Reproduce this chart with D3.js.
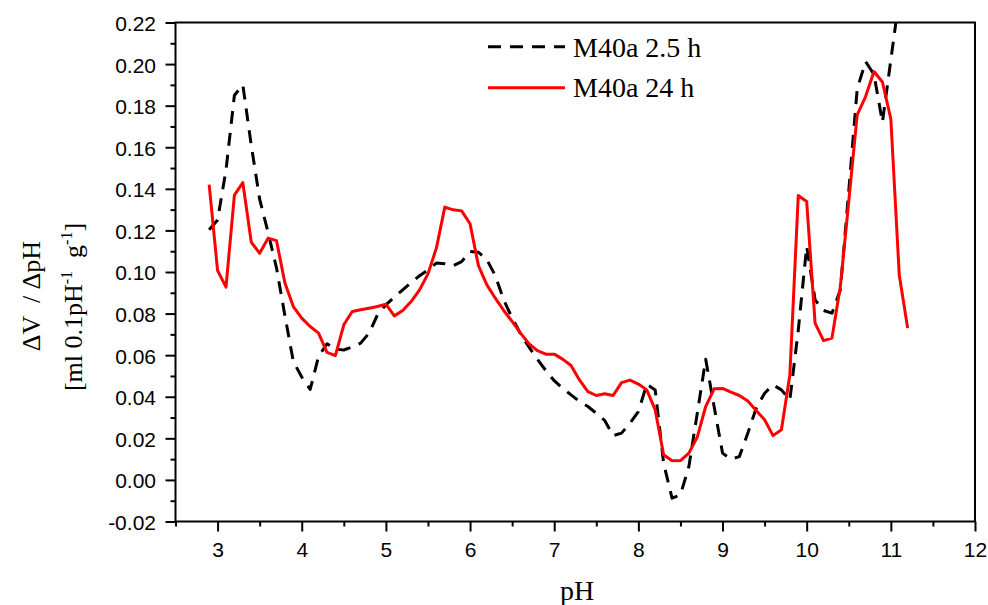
<!DOCTYPE html>
<html>
<head>
<meta charset="utf-8">
<script src="https://cdn.jsdelivr.net/npm/d3@7"></script>
<style>
  html, body { margin: 0; padding: 0; background: #fff; }
  svg { display: block; }
  .axis path, .axis line { stroke: #000; }
  .axis text { font-family: "Liberation Sans", Arial, sans-serif; font-size: 21px; fill: #000; }
  .serif { font-family: "Liberation Serif", "Times New Roman", serif; fill: #000; }
</style>
</head>
<body>
<svg id="chart" width="988" height="605"></svg>
<script>
// pH values shared by both titration runs
const pH = [2.9, 3.0, 3.1, 3.2, 3.3, 3.4, 3.5, 3.6, 3.7, 3.8, 3.9,
  4.0, 4.1, 4.2, 4.3, 4.4, 4.5, 4.6, 4.7, 4.8, 4.9,
  5.0, 5.1, 5.2, 5.3, 5.4, 5.5, 5.6, 5.7, 5.8, 5.9,
  6.0, 6.1, 6.2, 6.3, 6.4, 6.5, 6.6, 6.7, 6.8, 6.9,
  7.0, 7.1, 7.2, 7.3, 7.4, 7.5, 7.6, 7.7, 7.8, 7.9,
  8.0, 8.1, 8.2, 8.3, 8.4, 8.5, 8.6, 8.7, 8.8, 8.9,
  9.0, 9.1, 9.2, 9.3, 9.4, 9.5, 9.6, 9.7, 9.8, 9.9,
  10.0, 10.1, 10.2, 10.3, 10.4, 10.5, 10.6, 10.7, 10.8, 10.9,
  11.0, 11.1, 11.2];

// dV/dpH after 2.5 h (ends at pH 11.1)
const m40a_2_5h = [0.1203, 0.1250, 0.1490, 0.1850, 0.1900, 0.1610, 0.1350, 0.1190, 0.1020, 0.0790, 0.0570,
  0.0495, 0.0435, 0.0594, 0.0655, 0.0629, 0.0625, 0.0639, 0.0658, 0.0706, 0.0794,
  0.0842, 0.0879, 0.0914, 0.0949, 0.0982, 0.1010, 0.1043, 0.1040, 0.1030, 0.1050,
  0.1099, 0.1095, 0.1059, 0.0982, 0.0866, 0.0778, 0.0703, 0.0639, 0.0581, 0.0526,
  0.0477, 0.0441, 0.0409, 0.0377, 0.0353, 0.0321, 0.0286, 0.0213, 0.0225, 0.0273,
  0.0329, 0.0460, 0.0433, 0.0081, -0.0088, -0.0072, 0.0064, 0.0321, 0.0580, 0.0353,
  0.0129, 0.0100, 0.0112, 0.0225, 0.0345, 0.0417, 0.0457, 0.0433, 0.0385, 0.0720,
  0.1123, 0.0866, 0.0815, 0.0802, 0.0914, 0.1390, 0.1880, 0.2012, 0.1950, 0.1720,
  0.2020, 0.2320];

// dV/dpH after 24 h
const m40a_24h = [0.1420, 0.1007, 0.0927, 0.1370, 0.1430, 0.1144, 0.1090, 0.1163, 0.1151, 0.0947, 0.0834,
  0.0778, 0.0738, 0.0706, 0.0613, 0.0598, 0.0746, 0.0810, 0.0818, 0.0826, 0.0834,
  0.0845, 0.0789, 0.0815, 0.0858, 0.0914, 0.0991, 0.1115, 0.1312, 0.1299, 0.1294,
  0.1232, 0.1030, 0.0938, 0.0874, 0.0815, 0.0762, 0.0706, 0.0655, 0.0622, 0.0605,
  0.0605, 0.0581, 0.0550, 0.0481, 0.0425, 0.0406, 0.0414, 0.0406, 0.0468, 0.0480,
  0.0461, 0.0433, 0.0337, 0.0121, 0.0092, 0.0093, 0.0129, 0.0206, 0.0353, 0.0438,
  0.0440, 0.0422, 0.0406, 0.0380, 0.0334, 0.0289, 0.0213, 0.0241, 0.0505, 0.1368,
  0.1339, 0.0754, 0.0670, 0.0682, 0.0930, 0.1340, 0.1756, 0.1844, 0.1964, 0.1914,
  0.1736, 0.0986, 0.0730];

const seriesNames = ["M40a 2.5 h", "M40a 24 h"];

// axis ticks
const xMajorTicks = [3, 4, 5, 6, 7, 8, 9, 10, 11, 12];
const xMinorTicks = [2.5, 3.5, 4.5, 5.5, 6.5, 7.5, 8.5, 9.5, 10.5, 11.5];
const yMajorTicks = [-0.02, 0.00, 0.02, 0.04, 0.06, 0.08, 0.10, 0.12, 0.14, 0.16, 0.18, 0.20, 0.22];
const yTickLabels = ["-0.02", "0.00", "0.02", "0.04", "0.06", "0.08", "0.10", "0.12", "0.14", "0.16", "0.18", "0.20", "0.22"];
const yMinorTicks = [-0.01, 0.01, 0.03, 0.05, 0.07, 0.09, 0.11, 0.13, 0.15, 0.17, 0.19, 0.21];

const svg = d3.select("#chart");
const W = 988, H = 605;
const plot = { left: 175.5, right: 975, top: 22.5, bottom: 521.5 };

svg.append("rect").attr("width", W).attr("height", H).attr("fill", "#fff");

const x = d3.scaleLinear().domain([2.5, 12]).range([plot.left, plot.right]);
const y = d3.scaleLinear().domain([-0.02, 0.22]).range([plot.bottom, plot.top]);

svg.append("defs").append("clipPath").attr("id", "plotClip")
  .append("rect")
  .attr("x", plot.left).attr("y", plot.top)
  .attr("width", plot.right - plot.left).attr("height", plot.bottom - plot.top);

// series lines
const line = d3.line().x(d => x(d[0])).y(d => y(d[1]));
const dashedData = m40a_2_5h.map((v, i) => [pH[i], v]);
const solidData = m40a_24h.map((v, i) => [pH[i], v]);

const g = svg.append("g").attr("clip-path", "url(#plotClip)");
g.append("path").datum(dashedData)
  .attr("d", line)
  .attr("fill", "none").attr("stroke", "#000").attr("stroke-width", 3)
  .attr("stroke-dasharray", "13,9").attr("stroke-linejoin", "round");
g.append("path").datum(solidData)
  .attr("d", line)
  .attr("fill", "none").attr("stroke", "#ff0000").attr("stroke-width", 3)
  .attr("stroke-linejoin", "round");

// x axis
const xAxis = svg.append("g").attr("class", "axis").attr("transform", `translate(0,${plot.bottom})`);
xAxis.call(d3.axisBottom(x).tickValues(xMajorTicks).tickSize(10).tickPadding(11).tickFormat(d3.format("d")));
const xMinor = svg.append("g").attr("class", "axis").attr("transform", `translate(0,${plot.bottom})`);
xMinor.call(d3.axisBottom(x).tickValues(xMinorTicks).tickSize(5).tickFormat(""));

// y axis
const yAxis = svg.append("g").attr("class", "axis").attr("transform", `translate(${plot.left},0)`);
yAxis.call(d3.axisLeft(y).tickValues(yMajorTicks).tickSize(10).tickPadding(9.5)
  .tickFormat((d, i) => yTickLabels[i]));
yAxis.selectAll("text").attr("dy", "0.38em");
const yMinor = svg.append("g").attr("class", "axis").attr("transform", `translate(${plot.left},0)`);
yMinor.call(d3.axisLeft(y).tickValues(yMinorTicks).tickSize(5).tickFormat(""));

svg.selectAll(".axis path.domain").remove();
svg.selectAll(".axis line").attr("stroke-width", 2);

// frame
svg.append("rect")
  .attr("x", plot.left).attr("y", plot.top)
  .attr("width", plot.right - plot.left).attr("height", plot.bottom - plot.top)
  .attr("fill", "none").attr("stroke", "#000").attr("stroke-width", 2);

// axis titles
svg.append("text").attr("class", "serif")
  .attr("x", 577).attr("y", 600)
  .attr("text-anchor", "middle").attr("font-size", 28)
  .text("pH");

svg.append("text").attr("class", "serif")
  .attr("transform", "translate(39.5,296) rotate(-90)")
  .attr("text-anchor", "middle").attr("font-size", 26)
  .style("white-space", "pre")
  .text("ΔV  / ΔpH");

const yt2 = svg.append("text").attr("class", "serif")
  .attr("transform", "translate(81.5,307) rotate(-90)")
  .attr("text-anchor", "middle").attr("font-size", 26)
  .style("white-space", "pre");
yt2.append("tspan").text("[ml 0.1pH");
yt2.append("tspan").attr("font-size", 16).attr("dy", -10).text("-1");
yt2.append("tspan").attr("dy", 10).text("  g");
yt2.append("tspan").attr("font-size", 16).attr("dy", -10).text("-1");
yt2.append("tspan").attr("dy", 10).text("]");

// legend
const legend = svg.append("g");
const legendRows = [
  { name: seriesNames[0], y: 46.7, color: "#000", dash: "13,9", base: 56.7 },
  { name: seriesNames[1], y: 87.7, color: "#ff0000", dash: null, base: 97.3 }
];
legendRows.forEach(r => {
  legend.append("line")
    .attr("x1", 488).attr("x2", 565).attr("y1", r.y).attr("y2", r.y)
    .attr("stroke", r.color).attr("stroke-width", 3)
    .attr("stroke-dasharray", r.dash);
  legend.append("text").attr("class", "serif")
    .attr("x", 573).attr("y", r.base)
    .attr("font-size", 28)
    .text(r.name);
});
</script>
</body>
</html>
